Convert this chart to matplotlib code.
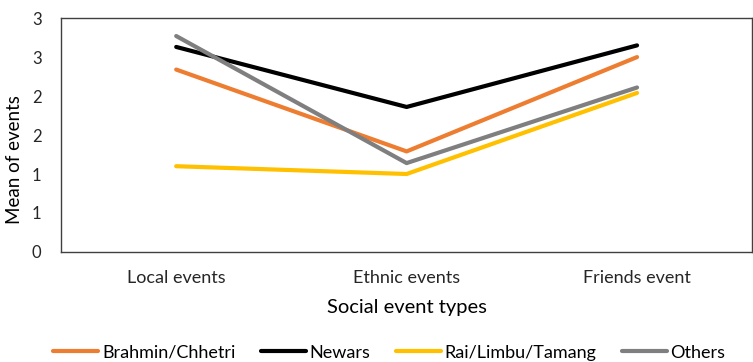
import matplotlib.pyplot as plt
from matplotlib.ticker import FuncFormatter
import numpy as np

plt.rcParams['font.family'] = ['Lato', 'DejaVu Sans']

# Daten
categories = ["Local events", "Ethnic events", "Friends event"]
brahmin = [2.34, 1.29, 2.50]
newars = [2.63, 1.86, 2.65]
rai = [1.10, 1.00, 2.04]
others = [2.77, 1.14, 2.11]

series = [
    ("Brahmin/Chhetri", brahmin, "#ED7D31"),
    ("Newars", newars, "#000000"),
    ("Rai/Limbu/Tamang", rai, "#FFC000"),
    ("Others", others, "#7F7F7F"),
]

fig = plt.figure(figsize=(7.53, 3.62), dpi=100)
ax = fig.add_axes([0.081, 0.304, 0.918, 0.646])

x = np.arange(len(categories)) + 0.5
for name, vals, col in series:
    ax.plot(x, vals, color=col, linewidth=3, solid_capstyle='round', label=name)

ax.set_xlim(0, 3)
ax.set_ylim(0, 3)
ax.set_xticks(x)
ax.set_xticklabels(categories)
ax.set_yticks(np.arange(0, 3.01, 0.5))
# Excel rundet die Achsenbeschriftung auf ganze Zahlen
ax.yaxis.set_major_formatter(FuncFormatter(lambda v, p: str(int(np.floor(v + 0.5)))))
ax.tick_params(axis='both', length=0, labelcolor="#262626")
ax.tick_params(axis='x', pad=13, labelsize=13)
ax.tick_params(axis='y', pad=14, labelsize=12)

for s in ax.spines.values():
    s.set_color("#404040")
    s.set_linewidth(1)

ax.set_xlabel("Social event types", fontsize=14.5, color="#000000", labelpad=9)
ax.set_ylabel("Mean of events", fontsize=13.5, color="#000000")
ax.yaxis.set_label_coords(-0.055, 0.397)

fig.legend(loc='center', bbox_to_anchor=(0.517, 0.026), ncol=4, frameon=False,
           fontsize=13, handlelength=2.5, handletextpad=0.2, columnspacing=1.4,
           borderaxespad=0, borderpad=0)

fig.savefig("out.png", dpi=100)
